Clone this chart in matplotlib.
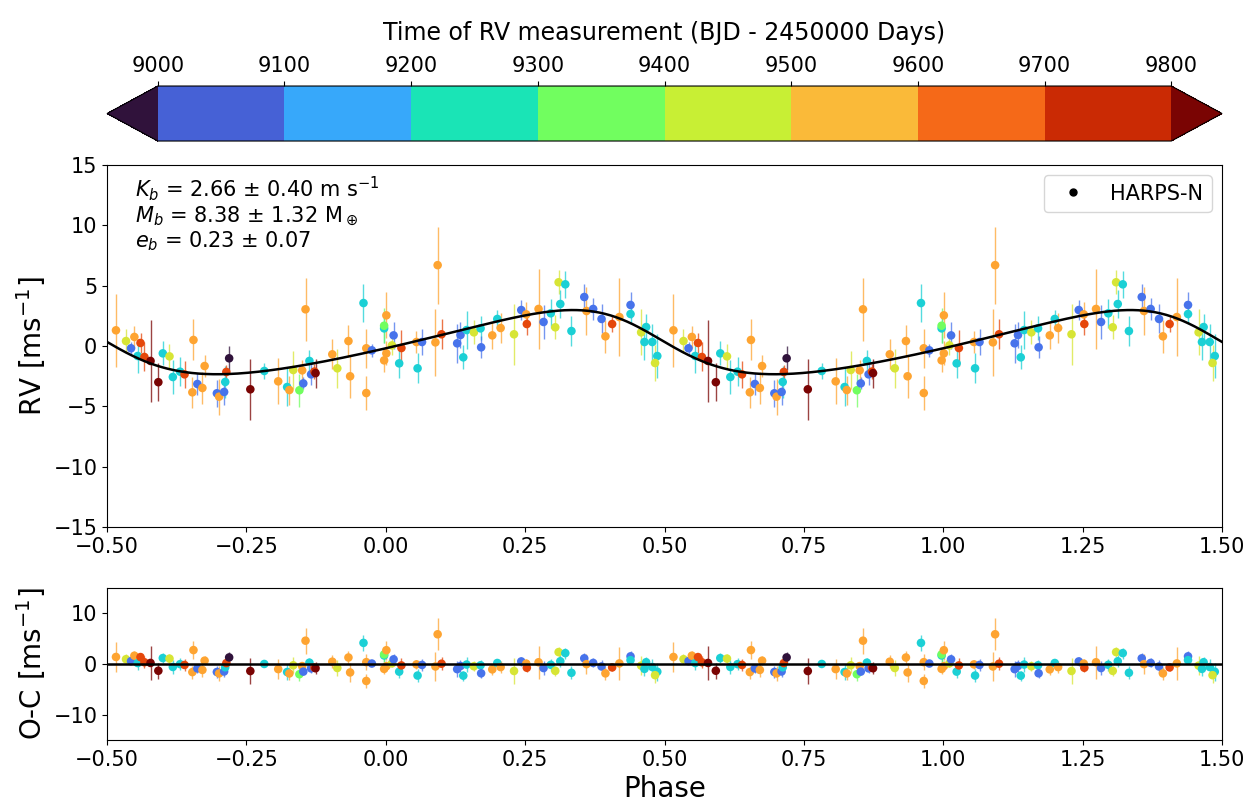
import matplotlib
matplotlib.use("Agg")
import matplotlib.pyplot as plt
import numpy as np
from matplotlib.colors import BoundaryNorm, Normalize
from matplotlib.cm import ScalarMappable
from matplotlib.lines import Line2D

tp, tb, tc, tg, ty, to, tr, td = 8980, 9110, 9230, 9355, 9465, 9560, 9665, 9830

# HARPS-N points: phase, RV [m/s], error, time
phase = [-0.484, -0.466, -0.457, -0.451, -0.445, -0.440, -0.433, -0.422, -0.408, -0.400,
         -0.388, -0.382, -0.369, -0.361, -0.345, -0.347, -0.338, -0.329, -0.325, -0.303,
         -0.299, -0.290, -0.288, -0.286, -0.281, -0.243, -0.218, -0.193, -0.177, -0.173,
         -0.166, -0.155, -0.150, -0.144, -0.148, -0.137, -0.134, -0.128, -0.126, -0.096,
         -0.087, -0.067, -0.064, -0.040, -0.035, -0.035, -0.025, -0.003, -0.003, -0.003,
         0.001, 0.001, 0.011, 0.014, 0.024, 0.028, 0.055, 0.057, 0.065, 0.089,
         0.093, 0.100, 0.128, 0.134, 0.139, 0.145, 0.158, 0.170, 0.171, 0.191,
         0.200, 0.206, 0.230, 0.243, 0.252, 0.253, 0.274, 0.283, 0.296, 0.304,
         0.310, 0.313, 0.322, 0.333, 0.356, 0.360, 0.372, 0.387, 0.394, 0.406,
         0.419, 0.439, 0.439, 0.458, 0.467, 0.464, 0.478, 0.487, 0.483]
rv = [1.30, 0.41, -0.19, 0.75, -0.83, 0.25, -0.91, -1.24, -3.00, -0.61,
      -0.86, -2.57, -2.13, -2.35, 0.50, -3.84, -3.15, -3.48, -1.66, -3.92,
      -4.20, -3.81, -2.98, -2.15, -1.02, -3.59, -2.07, -2.93, -3.40, -3.65,
      -1.99, -3.67, -2.02, 3.04, -3.10, -1.24, -2.35, -2.12, -2.25, -0.69,
      -1.85, 0.41, -2.51, 3.56, -0.19, -3.90, -0.36, -1.19, 1.46, 1.68,
      2.54, -0.61, 0.05, 0.88, -1.44, -0.17, 0.33, -1.85, 0.33, 0.30,
      6.70, 0.97, 0.22, 0.91, -0.94, 1.32, 1.13, 1.46, -0.11, 0.88,
      2.24, 1.49, 0.97, 2.98, 2.62, 1.82, 3.07, 1.99, 2.71, 1.55,
      5.28, 3.48, 5.11, 1.24, 4.06, 2.90, 3.07, 2.24, 0.80, 1.82,
      2.40, 3.40, 2.65, 1.13, 1.57, 0.33, 0.33, -0.83, -1.41]
err = [3.0, 1.0, 0.5, 0.9, 1.4, 0.8, 1.2, 3.4, 1.6, 1.0,
       1.0, 1.4, 1.2, 1.1, 1.7, 1.3, 0.9, 1.3, 0.9, 1.1,
       1.5, 1.1, 1.3, 0.6, 1.0, 2.55, 0.65, 1.9, 1.6, 1.2,
       1.6, 1.35, 0.9, 2.6, 0.5, 0.9, 0.9, 0.6, 1.2, 1.25,
       1.6, 1.3, 1.8, 1.6, 1.6, 1.4, 0.55, 1.0, 1.2, 1.45,
       1.9, 1.0, 0.8, 1.1, 1.25, 1.5, 0.9, 1.25, 1.1, 2.8,
       3.2, 1.25, 1.6, 1.1, 1.0, 1.55, 1.0, 1.0, 0.9, 1.1,
       0.75, 1.25, 2.55, 0.85, 1.0, 0.9, 3.3, 1.4, 1.2, 1.0,
       1.0, 1.2, 1.1, 1.25, 1.1, 1.95, 0.9, 1.2, 1.35, 0.7,
       3.25, 1.05, 0.8, 1.9, 1.1, 1.45, 1.5, 1.8, 1.5]
times = [to, ty, tb, to, tc, tr, tr, td, td, tc,
         ty, tc, tc, tr, to, to, tb, to, to, tb,
         to, tb, tc, tr, tp, td, tc, to, tc, to,
         ty, tg, to, to, tb, tc, tb, tr, td, to,
         ty, to, to, tc, to, to, tb, to, tc, tg,
         to, to, ty, tb, tc, tr, to, tc, tb, to,
         to, tr, tb, tb, tc, tc, ty, tc, tb, to,
         tc, to, ty, tb, to, tr, to, tb, tc, ty,
         ty, tc, tc, tc, tb, to, tb, tb, to, tr,
         to, tb, tc, ty, tc, tc, tc, tc, ty]

# Keplerian fit parameters
K_b = 2.66
e_b = 0.23
omega_b = np.radians(72.0)
phase_peri = 0.470
gamma = 0.13


def rv_model(ph):
    M = 2 * np.pi * (np.asarray(ph) - phase_peri)
    E = M.copy()
    for _ in range(40):
        E = E - (E - e_b * np.sin(E) - M) / (1 - e_b * np.cos(E))
    nu = 2 * np.arctan2(np.sqrt(1 + e_b) * np.sin(E / 2), np.sqrt(1 - e_b) * np.cos(E / 2))
    return K_b * (np.cos(nu + omega_b) + e_b * np.cos(omega_b)) + gamma


phase = np.array(phase)
rv = np.array(rv)
err = np.array(err)
times = np.array(times)
resid = rv - rv_model(phase)

# show two cycles
ph2 = np.concatenate([phase, phase + 1])
rv2 = np.concatenate([rv, rv])
err2 = np.concatenate([err, err])
t2 = np.concatenate([times, times])
res2 = np.concatenate([resid, resid])

cmap = plt.get_cmap('turbo')
norm = Normalize(vmin=9000, vmax=9800)
cols = cmap(norm(t2))
ecols = cols.copy()
ecols[:, 3] = 0.75

fig = plt.figure(figsize=(12.58, 8.10), dpi=100)
cax = fig.add_axes([0.0851, 0.8259, 0.8863, 0.0679])
ax = fig.add_axes([0.0851, 0.3494, 0.8863, 0.4469])
axr = fig.add_axes([0.0851, 0.0864, 0.8863, 0.1877])

# discrete colour bar
cmap_bar = plt.get_cmap('turbo', 10)
bounds = np.arange(9000, 9900, 100)
norm_bar = BoundaryNorm(bounds, cmap_bar.N, extend='both')
sm = ScalarMappable(norm=norm_bar, cmap=cmap_bar)
cb = fig.colorbar(sm, cax=cax, orientation='horizontal', extend='both', ticks=bounds)
cax.xaxis.set_ticks_position('top')
cax.xaxis.set_label_position('top')
cax.tick_params(labelsize=15)
cb.set_label('Time of RV measurement (BJD - 2450000 Days)', fontsize=17, labelpad=12)

# RV panel
ax.errorbar(ph2, rv2, yerr=err2, fmt='none', ecolor=ecols, elinewidth=1, zorder=1)
ax.scatter(ph2, rv2, c=cols, s=38, zorder=2, edgecolors='none')
xm = np.linspace(-0.5, 1.5, 1000)
ax.plot(xm, rv_model(xm), color='k', lw=1.8, zorder=3)
ax.set_xlim(-0.5, 1.5)
ax.set_ylim(-15, 15)
ax.set_xticks(np.arange(-0.5, 1.51, 0.25))
ax.set_ylabel('RV [ms$^{-1}$]', fontsize=20)
ax.tick_params(labelsize=15)
ax.text(0.025, 0.975,
        '$K_b$ = 2.66 ± 0.40 m s$^{-1}$\n$M_b$ = 8.38 ± 1.32 M$_\\oplus$\n$e_b$ = 0.23 ± 0.07',
        transform=ax.transAxes, fontsize=15, va='top', ha='left', linespacing=1.1)
h = Line2D([], [], marker='o', color='k', ls='none', markersize=5)
ax.legend([h], ['HARPS-N'], loc='upper right', fontsize=15)

# residual panel
axr.errorbar(ph2, res2, yerr=err2, fmt='none', ecolor=ecols, elinewidth=1, zorder=1)
axr.scatter(ph2, res2, c=cols, s=38, zorder=2, edgecolors='none')
axr.axhline(0, color='k', lw=1.8, zorder=3)
axr.set_xlim(-0.5, 1.5)
axr.set_ylim(-15, 15)
axr.set_xticks(np.arange(-0.5, 1.51, 0.25))
axr.set_yticks([-10, 0, 10])
axr.set_ylabel('O-C [ms$^{-1}$]', fontsize=20)
axr.set_xlabel('Phase', fontsize=20)
axr.tick_params(labelsize=15)

fig.savefig('out.png', dpi=100)
